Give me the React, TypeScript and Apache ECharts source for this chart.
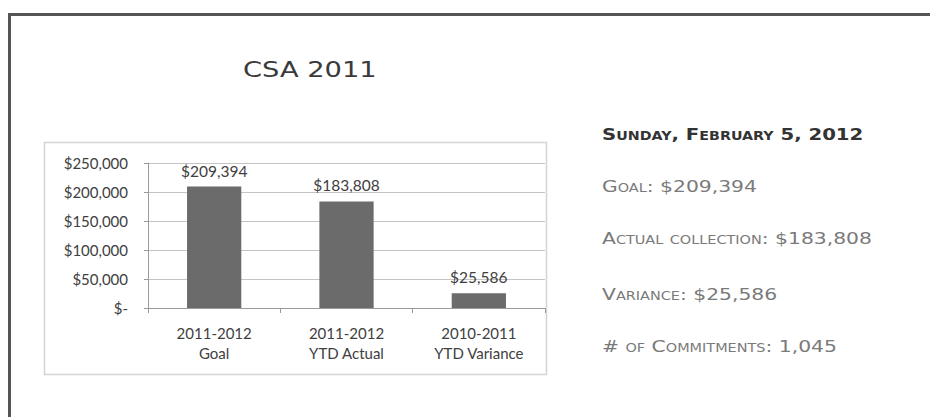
import React, { useEffect, useRef } from "react";
import * as echarts from "echarts";

const categories = ["2011-2012\nGoal", "2011-2012\nYTD Actual", "2010-2011\nYTD Variance"];
const values = [209394, 183808, 25586];
const yTicks = [0, 50000, 100000, 150000, 200000, 250000];
const titleText = "CSA 2011";
const infoLines = [
  "Sunday, February 5, 2012",
  "Goal: $209,394",
  "Actual collection: $183,808",
  "Variance: $25,586",
  "# of Commitments: 1,045",
];

const fmtMoney = (v: number) => (v === 0 ? "$-" : "$" + v.toLocaleString("en-US"));

export default function App() {
  const ref = useRef<HTMLDivElement>(null);
  useEffect(() => {
    if (!ref.current) return;
    const chart = echarts.init(ref.current, undefined, { renderer: "svg" });
    const infoY = [134, 186, 238, 294, 346];
    const sc = "'DejaVu Sans';font-variant:small-caps";
    const infoGraphics = infoLines.map((t, i) => ({
      type: "text",
      x: 602,
      y: infoY[i],
      scaleX: i === 0 ? 1.23 : 1.27,
      style: {
        text: t,
        fontSize: 16,
        fontWeight: i === 0 ? "bold" : "normal",
        fontFamily: sc,
        fill: i === 0 ? "#333333" : "#7a7a7a",
        textAlign: "left",
        textVerticalAlign: "middle",
        verticalAlign: "middle",
      },
    }));
    const labelFont = "Lato";
    chart.setOption({
      animation: false,
      backgroundColor: "#ffffff",
      graphic: [
        { type: "rect", shape: { x: 8, y: 13, width: 922, height: 3 }, style: { fill: "#555555" }, z: 10 },
        { type: "rect", shape: { x: 8, y: 13, width: 3, height: 404 }, style: { fill: "#555555" }, z: 10 },
        {
          type: "rect",
          shape: { x: 44.5, y: 142.5, width: 502, height: 232 },
          style: { fill: "none", stroke: "#d4d4d4", lineWidth: 1.5 },
          z: -1,
        },
        {
          type: "text",
          x: 243,
          y: 70,
          scaleX: 1.3,
          style: {
            text: titleText,
            fontSize: 21,
            fontFamily: "'DejaVu Sans'",
            fill: "#3a3a3a",
            textAlign: "left",
            textVerticalAlign: "middle",
            verticalAlign: "middle",
          },
        },
        ...infoGraphics,
      ],
      grid: { left: 148, right: 385, top: 163, bottom: 109, containLabel: false },
      xAxis: {
        type: "category",
        data: categories,
        axisLine: { show: true, lineStyle: { color: "#9a9a9a", width: 1 } },
        axisTick: { show: true, alignWithLabel: false, length: 5, lineStyle: { color: "#9a9a9a" } },
        axisLabel: {
          color: "#404040",
          fontSize: 15,
          fontFamily: labelFont,
          lineHeight: 20,
          margin: 15,
          interval: 0,
        },
      },
      yAxis: {
        type: "value",
        min: 0,
        max: 250000,
        interval: 50000,
        axisLine: { show: true, lineStyle: { color: "#9a9a9a", width: 1 } },
        axisTick: { show: true, length: 4, lineStyle: { color: "#9a9a9a" } },
        splitLine: { show: true, lineStyle: { color: "#c4c4c4", width: 1 } },
        axisLabel: {
          color: "#404040",
          fontSize: 15,
          fontFamily: labelFont,
          margin: 20,
          formatter: (v: number) => (yTicks.includes(v) ? fmtMoney(v) : ""),
        },
      },
      series: [
        {
          type: "bar",
          data: values,
          barWidth: "41%",
          itemStyle: { color: "#6a6b6a" },
          label: {
            show: true,
            position: "top",
            distance: 8,
            color: "#404040",
            fontSize: 15.5,
            fontFamily: labelFont,
            formatter: (p: any) => fmtMoney(p.value),
          },
        },
      ],
    });
    return () => chart.dispose();
  }, []);
  return (
    <div
      ref={ref}
      style={{ position: "fixed", left: 0, top: 0, width: 930, height: 417, background: "#fff" }}
    />
  );
}
